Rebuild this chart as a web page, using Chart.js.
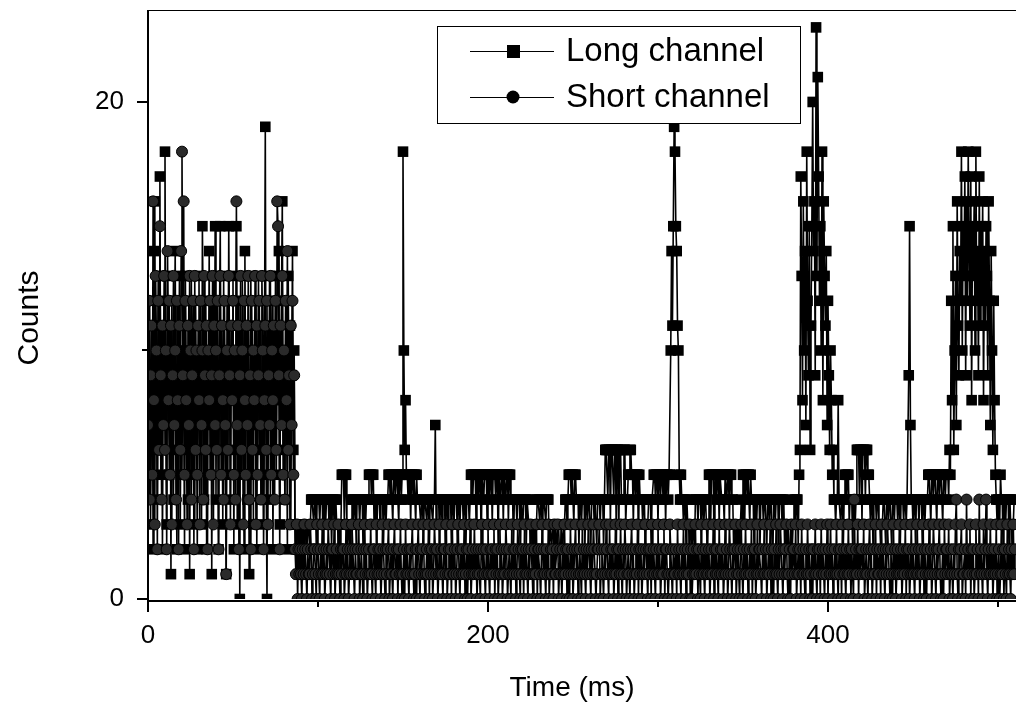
<!DOCTYPE html>
<html>
<head>
<meta charset="utf-8">
<title>Long and short channel counts</title>
<script src="https://cdn.jsdelivr.net/npm/chart.js@4.4.1/dist/chart.umd.min.js"></script>
<style>
  html, body { margin: 0; padding: 0; background: #ffffff; overflow: hidden; }
  canvas { display: block; }
</style>
</head>
<body>
<canvas id="chart" width="1016" height="707"></canvas>
<script>
// counts per 0.5 ms bin, index * binMs = time in ms
const binMs = 0.5;

const longChannel = [
  // 0 - 86 ms, both channels busy
  9, 5, 12, 3, 7, 11, 2, 14, 16, 6, 10, 4, 13, 8, 17, 5, 11, 2, 9, 12,
  18, 7, 3, 13, 9, 5, 11, 1, 12, 8, 4, 10, 14, 6, 2, 12, 7, 13, 3, 10,
  5, 11, 8, 2, 13, 6, 10, 4, 12, 1, 9, 13, 5, 11, 7, 3, 12, 8, 2, 10,
  13, 6, 9, 3, 15, 11, 4, 8, 12, 2, 10, 7, 14, 5, 11, 1, 9, 13, 6, 15,
  4, 12, 8, 2, 11, 15, 6, 9, 3, 13, 7, 10, 1, 12, 5, 15, 9, 4, 11, 8,
  13, 2, 10, 6, 15, 3, 12, 8, 0, 11, 5, 13, 9, 2, 14, 7, 10, 4, 12, 1,
  8, 13, 5, 11, 3, 10, 7, 12, 2, 9, 13, 6, 11, 4, 8, 12, 3, 10, 19, 5,
  0, 11, 7, 13, 4, 9, 12, 2, 10, 6, 13, 5, 11, 8, 14, 3, 9, 12, 16, 6,
  10, 4, 12, 8, 2, 13, 7, 11, 3, 9, 14, 6, 10,
  // 86.5 - 89.5 ms
  3, 2, 3, 3, 1, 3, 2,
  // 90 ms onwards, 10 ms per row
  3, 3, 2, 3, 1, 3, 3, 2, 3, 3, 2, 3, 4, 4, 4, 3, 4, 4, 2, 4,
  4, 4, 3, 4, 4, 4, 2, 4, 4, 3, 4, 4, 4, 3, 4, 4, 2, 4, 4, 3,
  4, 4, 3, 3, 2, 3, 1, 3, 5, 5, 5, 3, 5, 5, 3, 2, 3, 3, 1, 3,
  4, 4, 3, 4, 4, 2, 4, 4, 4, 3, 4, 4, 4, 2, 4, 4, 3, 4, 4, 4,
  5, 5, 5, 4, 5, 5, 3, 4, 4, 2, 4, 4, 4, 3, 4, 4, 4, 2, 4, 4,
  3, 4, 4, 5, 5, 4, 5, 5, 3, 5, 5, 4, 5, 5, 4, 3, 5, 5, 4, 5,
  18, 10, 6, 8, 5, 5, 4, 5, 5, 3, 5, 5, 4, 5, 5, 3, 5, 4, 4, 4,
  4, 3, 4, 4, 2, 4, 4, 4, 3, 4, 4, 2, 4, 4, 4, 3, 4, 4, 7, 3,
  4, 4, 4, 2, 4, 4, 3, 4, 4, 4, 1, 4, 4, 3, 4, 4, 4, 2, 4, 4,
  3, 4, 4, 4, 2, 4, 4, 3, 4, 4, 4, 3, 4, 4, 2, 4, 4, 4, 3, 4,
  5, 5, 4, 5, 5, 5, 3, 5, 5, 4, 5, 5, 2, 5, 5, 4, 5, 5, 5, 3,
  5, 5, 4, 5, 5, 3, 5, 5, 5, 4, 5, 5, 2, 5, 5, 4, 5, 5, 3, 5,
  5, 4, 5, 5, 3, 5, 5, 4, 4, 4, 2, 4, 4, 4, 3, 4, 4, 4, 1, 4,
  4, 3, 4, 4, 4, 2, 4, 4, 3, 3, 2, 3, 3, 1, 3, 3, 2, 3, 4, 4,
  4, 3, 4, 4, 2, 4, 4, 4, 3, 4, 4, 4, 2, 3, 3, 2, 3, 3, 1, 3,
  3, 2, 3, 3, 2, 1, 3, 3, 2, 3, 3, 4, 4, 3, 4, 5, 5, 5, 4, 5,
  5, 3, 5, 5, 4, 4, 4, 2, 4, 4, 3, 4, 4, 4, 2, 4, 4, 3, 4, 4,
  4, 2, 4, 4, 4, 3, 4, 4, 2, 4, 4, 4, 3, 4, 4, 4, 2, 4, 6, 6,
  6, 4, 6, 6, 3, 6, 6, 6, 4, 6, 6, 2, 6, 6, 3, 6, 6, 4, 4, 4,
  6, 6, 3, 4, 4, 5, 5, 6, 6, 5, 5, 3, 5, 5, 4, 5, 5, 2, 5, 4,
  4, 4, 3, 4, 4, 2, 3, 3, 3, 4, 4, 4, 2, 4, 4, 5, 5, 4, 5, 5,
  3, 5, 5, 4, 5, 5, 4, 5, 5, 3, 5, 5, 4, 5, 5, 10, 14, 11, 15, 19,
  18, 15, 14, 11, 10, 5, 4, 5, 4, 4, 3, 4, 4, 2, 4, 3, 3, 2, 3, 3,
  1, 3, 3, 2, 4, 4, 4, 3, 4, 4, 4, 2, 4, 4, 3, 4, 4, 3, 2, 3,
  5, 5, 3, 5, 5, 5, 2, 5, 5, 4, 5, 5, 3, 5, 5, 4, 4, 4, 3, 5,
  5, 4, 5, 5, 3, 5, 5, 4, 4, 2, 3, 3, 3, 1, 3, 3, 2, 3, 4, 3,
  5, 5, 3, 5, 5, 4, 5, 5, 3, 5, 4, 4, 4, 2, 4, 4, 3, 4, 4, 4,
  2, 4, 4, 4, 3, 4, 4, 4, 2, 4, 4, 3, 4, 4, 4, 1, 4, 4, 3, 4,
  4, 4, 2, 4, 4, 4, 3, 4, 4, 2, 3, 3, 2, 3, 3, 1, 3, 3, 2, 3,
  4, 4, 3, 4, 4, 2, 5, 6, 17, 13, 8, 16, 10, 14, 7, 18, 12, 9, 15, 6,
  11, 15, 20, 14, 16, 9, 23, 13, 21, 17, 12, 15, 10, 18, 8, 16, 13, 11, 14, 7,
  12, 9, 6, 10, 8, 5, 6, 4, 4, 3, 4, 4, 8, 4, 4, 3, 4, 4, 2, 4,
  5, 5, 4, 5, 5, 3, 4, 4, 4, 2, 4, 4, 3, 4, 6, 6, 6, 4, 6, 6,
  3, 6, 6, 6, 4, 6, 6, 5, 5, 4, 3, 4, 4, 2, 4, 4, 4, 3, 4, 4,
  3, 3, 2, 3, 3, 4, 4, 4, 2, 4, 4, 3, 4, 4, 4, 2, 4, 4, 3, 4,
  4, 4, 3, 4, 4, 2, 4, 4, 4, 3, 4, 4, 3, 4, 4, 9, 15, 7, 4, 4,
  3, 4, 4, 2, 4, 4, 4, 3, 4, 4, 4, 2, 4, 4, 3, 4, 4, 4, 5, 5,
  5, 3, 5, 5, 4, 5, 5, 5, 3, 5, 5, 4, 5, 5, 5, 3, 5, 5, 4, 5,
  5, 5, 4, 6, 5, 12, 8, 15, 6, 10, 13, 7, 16, 11, 9, 14, 12, 18, 10, 15,
  13, 17, 9, 16, 12, 18, 14, 11, 17, 8, 15, 13, 16, 10, 18, 12, 14, 9, 17, 11,
  15, 12, 16, 8, 14, 11, 15, 13, 9, 16, 12, 7, 14, 10, 6, 12, 8, 5, 4, 3,
  4, 4, 3, 5, 4, 4, 2, 4, 4, 3, 4, 4, 4, 2, 4, 3, 3, 1, 3, 4,
  4
];

const shortChannel = [
  // 0 - 86 ms
  7, 12, 4, 9, 11, 5, 16, 8, 3, 13, 10, 2, 12, 6, 15, 9, 4, 11, 7, 13,
  6, 10, 2, 14, 8, 12, 5, 11, 3, 9, 13, 7, 10, 4, 12, 8, 2, 11, 6, 14,
  18, 9, 16, 5, 12, 8, 3, 11, 7, 13, 10, 4, 9, 12, 2, 13, 6, 10, 5, 11,
  8, 3, 12, 7, 10, 4, 13, 9, 6, 11, 2, 10, 8, 12, 5, 9, 13, 3, 11, 7,
  10, 6, 12, 2, 9, 13, 5, 11, 8, 4, 12, 7, 1, 10, 6, 13, 9, 3, 11, 8,
  12, 5, 10, 4, 16, 7, 11, 2, 9, 13, 6, 10, 3, 12, 8, 5, 11, 7, 13, 4,
  9, 2, 12, 6, 10, 8, 13, 3, 11, 5, 9, 12, 7, 4, 13, 10, 2, 8, 11, 6,
  12, 3, 9, 7, 13, 5, 10, 8, 11, 4, 12, 6, 16, 15, 9, 2, 11, 7, 13, 5,
  10, 4, 12, 8, 14, 6, 9, 3, 11, 7, 12, 5, 9,
  // 86.5 - 89.5 ms
  2, 1, 3, 0, 2, 1, 2,
  // 90 ms onwards
  1, 0, 2, 1, 3, 2, 1, 0, 2, 1, 1, 3, 2, 0, 1, 2, 2, 1, 0, 3,
  2, 1, 0, 2, 1, 3, 1, 2, 0, 1, 2, 1, 3, 2, 1, 0, 2, 2, 1, 3,
  0, 1, 2, 1, 3, 1, 0, 2, 1, 2, 2, 0, 1, 3, 1, 2, 0, 1, 2, 1,
  3, 2, 1, 0, 2, 1, 1, 2, 3, 0, 1, 2, 1, 0, 2, 3, 1, 2, 0, 1,
  2, 1, 3, 1, 0, 2, 2, 1, 0, 3, 1, 2, 1, 2, 0, 1, 3, 2, 1, 0,
  2, 1, 2, 3, 0, 1, 2, 1, 0, 2, 3, 1, 1, 2, 0, 2, 1, 3, 1, 0,
  1, 2, 0, 3, 1, 2, 1, 0, 2, 1, 2, 3, 1, 0, 1, 2, 0, 2, 3, 1,
  0, 2, 1, 2, 3, 1, 0, 1, 2, 1, 3, 0, 2, 1, 2, 0, 1, 3, 2, 1,
  2, 0, 1, 3, 1, 2, 1, 0, 2, 2, 1, 3, 0, 1, 2, 1, 2, 0, 3, 1,
  1, 2, 0, 1, 2, 3, 1, 0, 2, 1, 2, 1, 3, 0, 1, 2, 0, 2, 1, 3,
  0, 1, 2, 1, 3, 1, 2, 0, 1, 2, 1, 0, 2, 3, 1, 2, 1, 0, 2, 1,
  3, 1, 0, 2, 1, 2, 1, 3, 0, 2, 1, 2, 0, 1, 3, 1, 2, 0, 1, 2,
  1, 3, 2, 0, 1, 2, 1, 0, 3, 1, 2, 1, 2, 0, 1, 3, 2, 1, 0, 2,
  1, 2, 0, 3, 1, 2, 1, 0, 2, 1, 3, 2, 1, 0, 1, 2, 1, 3, 0, 2,
  2, 1, 0, 2, 3, 1, 2, 1, 0, 2, 1, 3, 0, 1, 2, 1, 2, 0, 3, 1,
  1, 2, 3, 0, 1, 2, 1, 0, 2, 1, 3, 1, 2, 0, 2, 1, 0, 3, 1, 2,
  0, 1, 2, 3, 1, 2, 0, 1, 2, 1, 0, 3, 1, 2, 1, 0, 2, 1, 3, 2,
  1, 0, 2, 1, 3, 2, 1, 0, 1, 2, 2, 3, 0, 1, 2, 1, 0, 2, 1, 3,
  2, 1, 0, 3, 1, 2, 1, 2, 0, 1, 3, 1, 2, 0, 2, 1, 3, 1, 0, 2,
  1, 3, 2, 0, 1, 2, 1, 0, 2, 3, 1, 2, 0, 1, 2, 1, 3, 0, 2, 1,
  2, 0, 1, 2, 1, 3, 2, 1, 0, 2, 1, 2, 0, 3, 1, 2, 1, 0, 2, 1,
  3, 1, 2, 0, 1, 2, 1, 3, 0, 2, 2, 1, 0, 1, 3, 2, 1, 0, 2, 1,
  1, 2, 0, 3, 1, 2, 1, 0, 2, 1, 3, 1, 2, 0, 1, 2, 1, 3, 0, 2,
  0, 1, 2, 1, 3, 1, 2, 0, 2, 1, 0, 3, 1, 2, 1, 0, 2, 1, 3, 1,
  2, 0, 1, 2, 1, 3, 0, 2, 1, 2, 1, 0, 3, 1, 2, 1, 2, 0, 1, 3,
  1, 2, 0, 1, 3, 2, 1, 0, 2, 1, 2, 3, 0, 1, 2, 1, 0, 2, 3, 1,
  0, 2, 1, 3, 1, 2, 0, 1, 2, 1, 3, 0, 2, 1, 2, 0, 1, 3, 1, 2,
  2, 1, 0, 2, 1, 3, 1, 2, 0, 1, 2, 1, 3, 0, 2, 1, 0, 2, 1, 3,
  1, 0, 2, 1, 3, 2, 1, 0, 2, 1, 2, 3, 1, 0, 1, 2, 0, 3, 1, 2,
  2, 1, 3, 0, 1, 2, 1, 2, 0, 3, 1, 2, 1, 0, 2, 1, 3, 1, 2, 0,
  1, 2, 0, 2, 1, 3, 1, 0, 2, 1, 2, 0, 3, 1, 2, 1, 0, 2, 1, 3,
  0, 2, 1, 3, 1, 2, 0, 1, 2, 1, 3, 1, 0, 2, 1, 2, 0, 3, 1, 2,
  1, 0, 2, 1, 3, 1, 2, 0, 2, 1, 0, 4, 1, 2, 1, 3, 0, 2, 1, 2,
  2, 1, 3, 0, 1, 2, 1, 0, 2, 3, 1, 2, 0, 1, 2, 1, 3, 0, 2, 1,
  1, 2, 0, 3, 1, 2, 1, 0, 2, 1, 3, 2, 1, 0, 2, 1, 0, 3, 1, 2,
  0, 1, 2, 1, 3, 1, 2, 0, 1, 2, 1, 3, 0, 2, 1, 2, 0, 1, 3, 1,
  2, 1, 0, 2, 1, 3, 1, 2, 0, 1, 2, 1, 3, 0, 2, 1, 0, 2, 1, 3,
  1, 2, 0, 1, 3, 2, 1, 0, 2, 1, 2, 3, 1, 0, 1, 2, 0, 3, 1, 2,
  2, 1, 3, 0, 1, 2, 1, 0, 2, 1, 3, 4, 1, 0, 2, 1, 2, 3, 0, 1,
  1, 2, 0, 4, 1, 2, 1, 3, 0, 2, 1, 2, 0, 1, 3, 1, 2, 0, 4, 1,
  2, 1, 0, 3, 1, 2, 4, 1, 0, 2, 1, 3, 1, 2, 0, 1, 2, 1, 3, 0,
  1, 2, 0, 1, 3, 1, 2, 0, 2, 1, 0, 3, 1, 2, 1, 0, 2, 1, 3, 1,
  2
];

const xMajorTicks = [0, 200, 400];
const xMinorTicks = [100, 300, 500];
const yMajorTicks = [0, 20];
const yMinorTicks = [10];

const font = '"Liberation Sans", Arial, sans-serif';

function toPoints(values) {
  return values.map((v, i) => ({ x: i * binMs, y: v }));
}

function line(ctx, x1, y1, x2, y2) {
  ctx.beginPath();
  ctx.moveTo(x1, y1);
  ctx.lineTo(x2, y2);
  ctx.stroke();
}

// axes, ticks, titles and the boxed legend
const framePlugin = {
  id: "frame",
  afterDatasetsDraw(chart) {
    const { ctx, chartArea: area } = chart;
    const x = chart.scales.x;
    const y = chart.scales.y;
    const yZero = y.getPixelForValue(0);
    ctx.save();
    ctx.strokeStyle = "#000000";
    ctx.fillStyle = "#000000";

    ctx.lineWidth = 1;
    line(ctx, area.left, area.top + 0.5, area.right, area.top + 0.5);

    ctx.lineWidth = 2;
    line(ctx, area.left, area.top, area.left, yZero + 3);
    line(ctx, area.left - 1, yZero + 2, area.right, yZero + 2);

    xMajorTicks.forEach((v) => {
      const px = Math.round(x.getPixelForValue(v));
      line(ctx, px, yZero + 2, px, yZero + 13);
    });
    xMinorTicks.forEach((v) => {
      const px = Math.round(x.getPixelForValue(v));
      line(ctx, px, yZero + 2, px, yZero + 8);
    });
    yMajorTicks.forEach((v) => {
      const py = Math.round(y.getPixelForValue(v));
      line(ctx, area.left - 11, py, area.left, py);
    });
    yMinorTicks.forEach((v) => {
      const py = Math.round(y.getPixelForValue(v));
      line(ctx, area.left - 6, py, area.left, py);
    });

    ctx.font = `26px ${font}`;
    ctx.textBaseline = "middle";
    ctx.textAlign = "center";
    xMajorTicks.forEach((v) => ctx.fillText(String(v), x.getPixelForValue(v), 636));
    ctx.textAlign = "right";
    yMajorTicks.forEach((v) => ctx.fillText(String(v), 124, y.getPixelForValue(v)));

    ctx.textAlign = "center";
    ctx.font = `28px ${font}`;
    ctx.fillText("Time (ms)", 572, 688);
    ctx.save();
    ctx.translate(30, 318);
    ctx.rotate(-Math.PI / 2);
    ctx.font = `30px ${font}`;
    ctx.fillText("Counts", 0, 0);
    ctx.restore();

    // legend box
    const box = { left: 437, top: 26, right: 800, bottom: 123 };
    ctx.fillStyle = "#ffffff";
    ctx.fillRect(box.left, box.top, box.right - box.left, box.bottom - box.top);
    ctx.lineWidth = 1;
    ctx.strokeRect(box.left + 0.5, box.top + 0.5, box.right - box.left, box.bottom - box.top);
    ctx.fillStyle = "#000000";

    const rows = [
      { label: "Long channel", y: 51, marker: "square" },
      { label: "Short channel", y: 97, marker: "circle" }
    ];
    ctx.font = `33px ${font}`;
    ctx.textAlign = "left";
    rows.forEach((row) => {
      ctx.lineWidth = 1;
      line(ctx, 470, row.y + 0.5, 554, row.y + 0.5);
      if (row.marker === "square") {
        ctx.fillRect(507, row.y - 6, 13, 13);
      } else {
        ctx.beginPath();
        ctx.arc(513, row.y, 6.5, 0, Math.PI * 2);
        ctx.fill();
      }
      ctx.fillText(row.label, 566, row.y + 1);
    });

    ctx.restore();
  }
};

new Chart(document.getElementById("chart"), {
  type: "line",
  data: {
    datasets: [
      {
        label: "Long channel",
        data: toPoints(longChannel),
        borderColor: "#000000",
        borderWidth: 1.6,
        pointStyle: "rect",
        pointRadius: 7.5,
        pointBackgroundColor: "#000000",
        pointBorderColor: "#000000",
        pointBorderWidth: 0,
        tension: 0,
        order: 2
      },
      {
        label: "Short channel",
        data: toPoints(shortChannel),
        borderColor: "#000000",
        borderWidth: 1.6,
        pointStyle: "circle",
        pointRadius: 5.5,
        pointBackgroundColor: "#2a2a2a",
        pointBorderColor: "#000000",
        pointBorderWidth: 1,
        tension: 0,
        order: 1
      }
    ]
  },
  options: {
    responsive: false,
    animation: false,
    devicePixelRatio: 1,
    layout: {
      autoPadding: false,
      padding: { left: 148, top: 10, right: 0, bottom: 108 }
    },
    plugins: {
      legend: { display: false },
      tooltip: { enabled: false }
    },
    scales: {
      x: { type: "linear", min: 0, max: 510.6, display: false },
      y: { type: "linear", min: 0, max: 23.7, display: false }
    }
  },
  plugins: [framePlugin]
});
</script>
</body>
</html>
